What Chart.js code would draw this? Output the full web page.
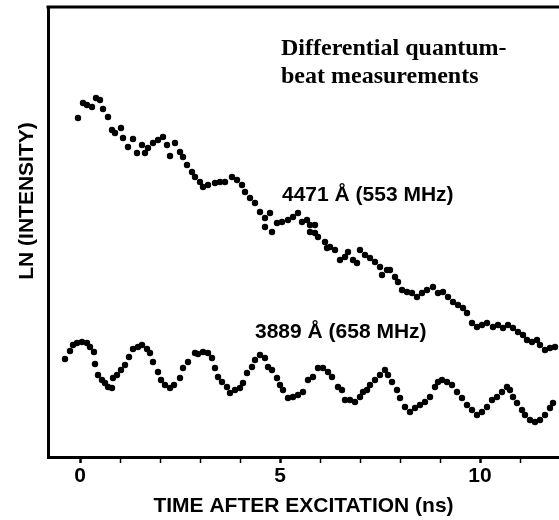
<!DOCTYPE html>
<html>
<head>
<meta charset="utf-8">
<script src="https://cdn.jsdelivr.net/npm/chart.js@4"></script>
<style>
  html, body { margin: 0; padding: 0; background: #fff; }
  canvas { display: block; }
</style>
</head>
<body>
<canvas id="beatChart" width="559" height="520"></canvas>
<script>
// time after excitation (ns) and ln(intensity) in arbitrary units
const t4471 = [-0.05, 0.075, 0.175, 0.3, 0.4, 0.5, 0.575, 0.7, 0.8, 0.875, 1.025, 1.075, 1.2, 1.325, 1.425, 1.55, 1.625, 1.7, 1.825, 1.95,
  2.075, 2.175, 2.25, 2.375, 2.5, 2.575, 2.675, 2.8, 2.875, 3.0, 3.075, 3.2, 3.375, 3.5, 3.625, 3.8, 3.925, 4.05, 4.125, 4.25,
  4.375, 4.5, 4.625, 4.75, 4.625, 4.8, 4.925, 5.05, 5.2, 5.325, 5.45, 5.55, 5.675, 5.75, 5.875, 5.75, 5.875, 5.95, 6.125, 6.175,
  6.25, 6.375, 6.5, 6.625, 6.7, 6.825, 6.925, 7.0, 7.125, 7.25, 7.375, 7.5, 7.55, 7.675, 7.75, 7.875, 7.95, 8.05, 8.175, 8.3,
  8.425, 8.55, 8.675, 8.825, 8.95, 9.075, 9.2, 9.325, 9.45, 9.575, 9.675, 9.8, 9.925, 10.05, 10.175, 10.325, 10.45, 10.575, 10.7, 10.825,
  10.95, 11.075, 11.175, 11.3, 11.425, 11.5, 11.625, 11.75, 11.875];
const ln4471 = [33.9, 35.4, 35.2, 35.0, 35.9, 35.7, 34.8, 34.0, 32.7, 32.4, 32.9, 31.9, 31.0, 31.8, 30.4, 31.2, 30.4, 30.9, 31.4, 31.7,
  32.0, 31.2, 30.1, 31.4, 30.5, 30.0, 29.2, 28.5, 28.0, 27.5, 27.0, 27.2, 27.4, 27.5, 27.5, 28.0, 27.7, 27.2, 26.5, 25.9,
  25.4, 24.5, 23.9, 24.4, 23.0, 22.5, 23.4, 23.5, 23.7, 24.0, 24.4, 23.5, 23.7, 23.2, 23.2, 22.5, 22.4, 22.0, 21.5, 20.9,
  21.0, 20.7, 19.7, 20.0, 20.5, 19.7, 19.4, 20.7, 20.2, 19.9, 19.5, 19.0, 18.2, 18.7, 18.7, 18.0, 17.5, 16.7, 16.5, 16.4,
  16.0, 16.4, 16.7, 17.0, 16.4, 16.5, 16.0, 15.5, 15.2, 14.9, 14.4, 13.4, 13.0, 13.2, 13.4, 13.0, 13.2, 12.9, 13.2, 12.9,
  12.5, 12.2, 11.7, 11.5, 11.7, 11.2, 10.7, 10.9, 11.0];

const t3889 = [-0.375, -0.25, -0.175, -0.075, 0.05, 0.175, 0.25, 0.35, 0.375, 0.45, 0.55, 0.625, 0.7, 0.8, 0.825, 0.925, 1.025, 1.125, 1.225, 1.325,
  1.45, 1.55, 1.675, 1.75, 1.825, 1.95, 2.025, 2.125, 2.25, 2.35, 2.5, 2.575, 2.7, 2.875, 2.95, 3.075, 3.2, 3.3, 3.375, 3.45,
  3.55, 3.675, 3.75, 3.875, 4.0, 4.075, 4.175, 4.3, 4.375, 4.5, 4.625, 4.7, 4.8, 4.925, 5.0, 5.075, 5.2, 5.325, 5.45, 5.575,
  5.7, 5.825, 5.95, 6.075, 6.2, 6.3, 6.45, 6.55, 6.625, 6.75, 6.875, 7.0, 7.075, 7.175, 7.25, 7.375, 7.5, 7.625, 7.7, 7.8,
  7.925, 8.0, 8.125, 8.25, 8.375, 8.5, 8.625, 8.75, 8.875, 8.95, 9.05, 9.175, 9.3, 9.425, 9.55, 9.675, 9.8, 9.925, 10.05, 10.175,
  10.3, 10.425, 10.55, 10.675, 10.75, 10.825, 10.925, 11.05, 11.125, 11.25, 11.375, 11.5, 11.625, 11.75, 11.825];
const ln3889 = [9.8, 10.6, 11.2, 11.4, 11.5, 11.4, 11.0, 10.5, 9.3, 8.2, 7.7, 7.4, 7.0, 6.9, 7.9, 8.2, 8.7, 9.2, 10.0, 10.8,
  11.0, 11.2, 10.8, 10.4, 9.5, 8.5, 7.7, 7.2, 6.9, 7.2, 7.9, 8.9, 9.5, 10.4, 10.3, 10.5, 10.4, 9.9, 8.9, 8.0,
  7.5, 7.0, 6.4, 6.7, 6.9, 7.4, 8.4, 9.0, 9.7, 10.2, 9.9, 9.0, 8.7, 7.9, 7.2, 6.7, 5.9, 6.0, 6.2, 6.5,
  7.7, 8.0, 8.9, 8.9, 8.5, 8.0, 7.0, 6.7, 5.7, 5.7, 5.5, 6.0, 6.5, 6.7, 7.2, 7.7, 8.2, 8.7, 8.2, 7.5,
  6.7, 5.9, 5.0, 4.5, 4.9, 5.2, 5.5, 6.0, 7.0, 7.5, 7.7, 7.5, 7.2, 6.5, 5.9, 5.2, 4.7, 4.2, 4.5, 5.0,
  5.7, 6.0, 6.5, 7.0, 6.7, 6.0, 5.4, 4.7, 4.2, 3.7, 3.5, 3.7, 4.2, 4.9, 5.4];

const xTickValues = [0, 1, 2, 3, 4, 5, 6, 7, 8, 9, 10, 11];
const xTickLabels = [0, 5, 10];

const sans = 'Liberation Sans, Arial, sans-serif';
const serif = 'Liberation Serif, Times New Roman, serif';

// text placed in data coordinates
const notes = [
  { text: 'Differential quantum-', x: 5.025, y: 40.2, font: 'bold 24px ' + serif },
  { text: 'beat measurements', x: 5.025, y: 37.4, font: 'bold 24px ' + serif },
  { text: '4471 Å (553 MHz)', x: 5.05, y: 25.6, font: 'bold 21px ' + sans },
  { text: '3889 Å (658 MHz)', x: 4.375, y: 11.9, font: 'bold 21px ' + sans }
];

function toPoints(xs, ys) {
  return xs.map((x, i) => ({ x: x, y: ys[i] }));
}

const frameAndNotes = {
  id: 'frameAndNotes',
  afterDraw(chart) {
    const { ctx, chartArea, scales } = chart;
    ctx.save();
    // top frame line
    ctx.strokeStyle = '#000';
    ctx.lineWidth = 3;
    ctx.beginPath();
    ctx.moveTo(chartArea.left - 1.5, chartArea.top);
    ctx.lineTo(chart.width, chartArea.top);
    ctx.stroke();

    ctx.fillStyle = '#000';
    ctx.textAlign = 'left';
    ctx.textBaseline = 'alphabetic';
    notes.forEach(n => {
      ctx.font = n.font;
      ctx.fillText(n.text, scales.x.getPixelForValue(n.x), scales.y.getPixelForValue(n.y));
    });

    // y axis label
    ctx.translate(27, 201);
    ctx.rotate(-Math.PI / 2);
    ctx.font = 'bold 21px ' + sans;
    ctx.textAlign = 'center';
    ctx.textBaseline = 'middle';
    ctx.fillText('LN (INTENSITY)', 0, 0);
    ctx.restore();
  }
};

new Chart(document.getElementById('beatChart'), {
  type: 'scatter',
  data: {
    datasets: [
      {
        label: '4471 Å (553 MHz)',
        data: toPoints(t4471, ln4471),
        backgroundColor: '#000',
        borderColor: '#000',
        pointRadius: 3.2,
        pointBorderWidth: 0
      },
      {
        label: '3889 Å (658 MHz)',
        data: toPoints(t3889, ln3889),
        backgroundColor: '#000',
        borderColor: '#000',
        pointRadius: 3.2,
        pointBorderWidth: 0
      }
    ]
  },
  options: {
    responsive: false,
    animation: false,
    devicePixelRatio: 1,
    layout: { autoPadding: false, padding: { left: 48, top: 7, right: 0, bottom: 1.6 } },
    plugins: {
      legend: { display: false },
      tooltip: { enabled: false }
    },
    scales: {
      x: {
        type: 'linear',
        min: -0.8,
        max: 11.975,
        afterBuildTicks: scale => {
          scale.ticks = xTickValues.map(v => ({ value: v }));
        },
        ticks: {
          autoSkip: false,
          maxRotation: 0,
          padding: 1,
          color: '#000',
          font: { family: sans, size: 21, weight: 'bold' },
          callback: v => (xTickLabels.includes(v) ? String(v) : '')
        },
        grid: {
          display: true,
          drawOnChartArea: false,
          drawTicks: true,
          tickLength: 6,
          tickColor: '#000',
          tickWidth: c => (c.tick && xTickLabels.includes(c.tick.value) ? 2.5 : 1.5)
        },
        border: { display: true, color: '#000', width: 3 },
        title: {
          display: true,
          text: 'TIME AFTER EXCITATION (ns)',
          color: '#000',
          font: { family: sans, size: 21, weight: 'bold' },
          padding: { top: 3, bottom: 0 }
        }
      },
      y: {
        min: 0,
        max: 45,
        ticks: { display: false },
        grid: { display: false, drawTicks: false },
        border: { display: true, color: '#000', width: 3 }
      }
    }
  },
  plugins: [frameAndNotes]
});
</script>
</body>
</html>
